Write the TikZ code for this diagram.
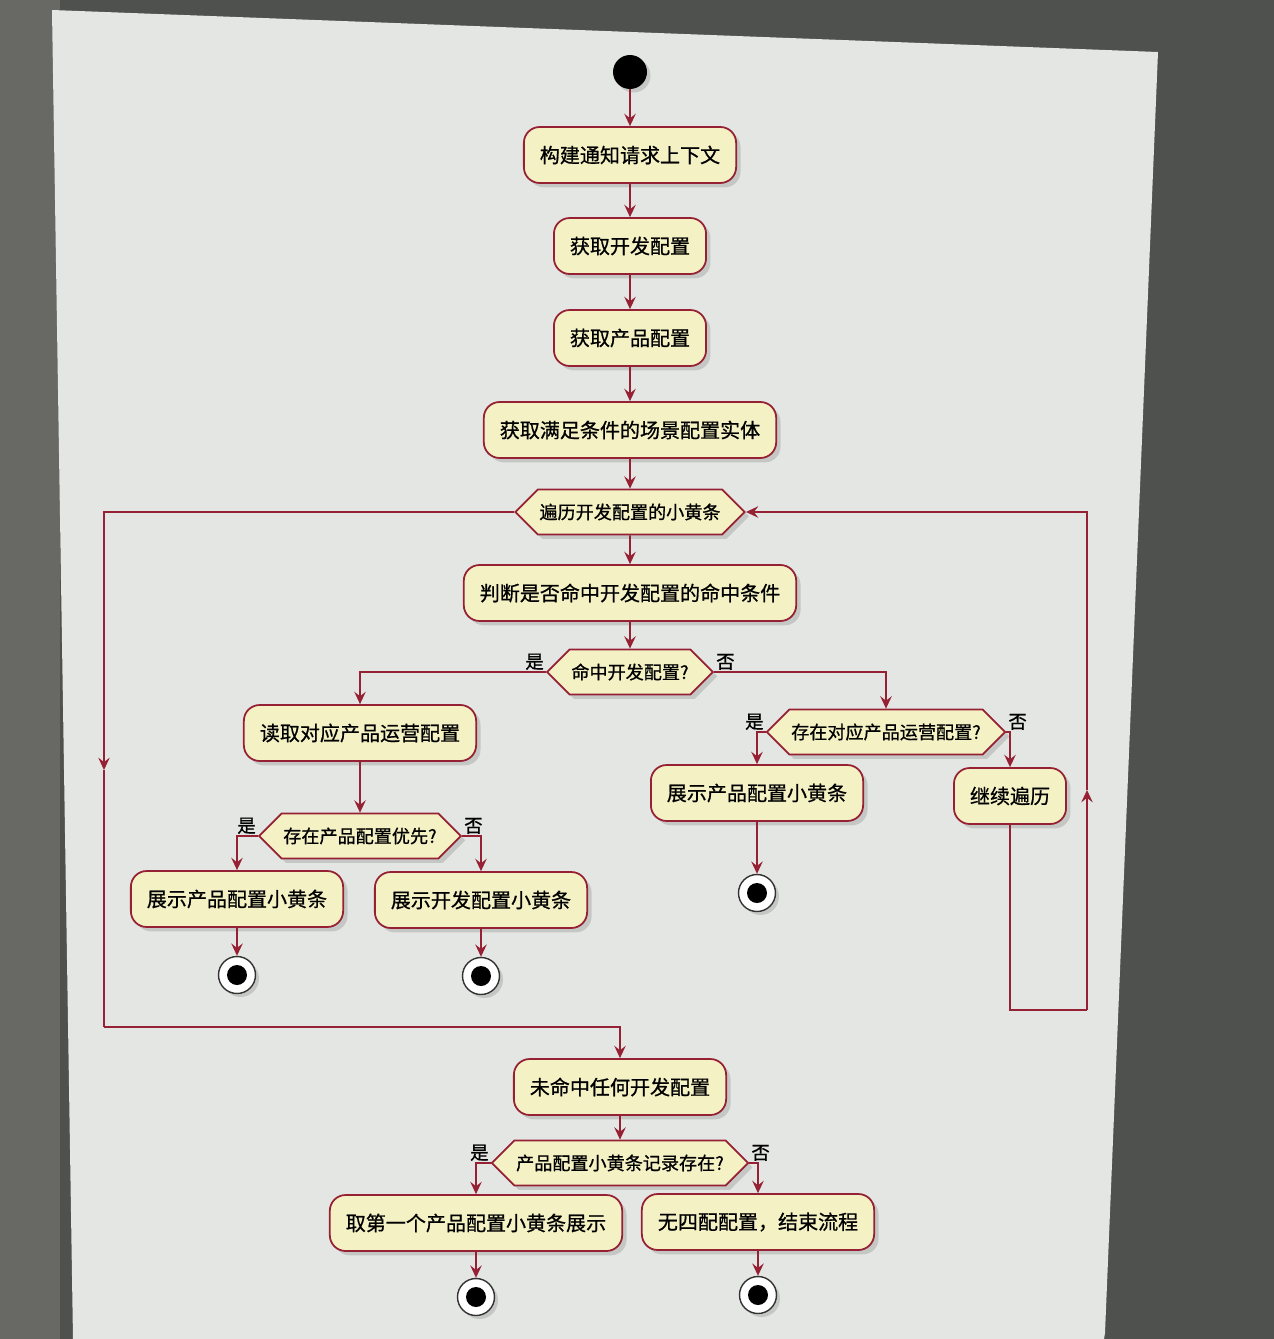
\documentclass[tikz,border=0pt]{standalone}
\usepackage{fontspec}
\newfontfamily\cjk{Noto Sans CJK SC}[FakeBold=0.8]
\usetikzlibrary{arrows.meta,shapes.symbols,shadows}

\definecolor{umlred}{RGB}{150,32,52}
\definecolor{umlfill}{RGB}{244,241,196}
\definecolor{paper}{RGB}{228,230,227}
\definecolor{screen}{RGB}{78,81,78}
\definecolor{screenleft}{RGB}{104,105,101}

\begin{document}
\begin{tikzpicture}[
    x=0.02cm, y=-0.02cm,
    act/.style={draw=umlred, line width=1pt, fill=umlfill, rounded corners=9pt, minimum height=1.12cm, inner xsep=0.32cm, font=\cjk\fontsize{11.4}{14}\selectfont, drop shadow={shadow xshift=2.5pt, shadow yshift=-2.5pt, opacity=0.3}},
    cond/.style={draw=umlred, line width=1pt, fill=umlfill, shape=signal, signal to=west and east, signal pointer angle=90, inner xsep=1pt, inner ysep=8pt, font=\cjk\fontsize{10.3}{12}\selectfont, drop shadow={shadow xshift=2.5pt, shadow yshift=-2.5pt, opacity=0.3}},
    startdot/.style={circle, fill=black, minimum size=0.68cm, inner sep=0pt, drop shadow={shadow xshift=2pt, shadow yshift=-2pt, opacity=0.3}},
    enddot/.style={circle, draw=black!80, fill=white, line width=0.8pt, minimum size=0.74cm, inner sep=0pt, drop shadow={shadow xshift=2pt, shadow yshift=-2pt, opacity=0.3}, path picture={\fill[black] (path picture bounding box.center) circle (0.2cm);}},
    flow/.style={draw=umlred, line width=1pt, -{Stealth[length=7pt, width=6.5pt, inset=2.5pt]}},
    line/.style={draw=umlred, line width=1pt},
    lbl/.style={font=\cjk\fontsize{10.5}{12}\selectfont, inner sep=1pt}
]
% --- screen and paper ---
\useasboundingbox (0,0) rectangle (1274,1339);
\fill[screen] (0,0) rectangle (1274,1339);
\fill[screenleft] (0,0) rectangle (60,1339);
\fill[paper] (52,10) -- (1158,52) -- (1105,1333) -- (1104,1339) -- (73,1339) -- cycle;

% --- main column ---
\node[startdot] (start) at (630,72) {};
\node[act] (build)   at (630,155) {构建通知请求上下文};
\node[act] (devcfg)  at (630,246) {获取开发配置};
\node[act] (prodcfg) at (630,338) {获取产品配置};
\node[act] (scene)   at (630,430) {获取满足条件的场景配置实体};
\node[cond] (loop)   at (630,512) {遍历开发配置的小黄条};
\node[act] (judge)   at (630,593) {判断是否命中开发配置的命中条件};
\node[cond] (hit)    at (630,672) {命中开发配置?};

% --- hit branch (left) ---
\node[act] (readop)     at (360,733) {读取对应产品运营配置};
\node[cond] (prio)      at (360,836) {存在产品配置优先?};
\node[act] (showprodA)  at (237,899) {展示产品配置小黄条};
\node[act] (showdev)    at (481,900) {展示开发配置小黄条};
\node[enddot] (endA) at (237,975) {};
\node[enddot] (endB) at (481,976) {};

% --- miss branch (right) ---
\node[cond] (opexist)   at (886,732) {存在对应产品运营配置?};
\node[act] (showprodB)  at (757,793) {展示产品配置小黄条};
\node[act] (goon)       at (1010,796) {继续遍历};
\node[enddot] (endC) at (757,893) {};

% --- after loop ---
\node[act] (nohit)      at (620,1087) {未命中任何开发配置};
\node[cond] (recexist)  at (620,1163) {产品配置小黄条记录存在?};
\node[act] (first)      at (476,1223) {取第一个产品配置小黄条展示};
\node[act] (nomatch)    at (758,1222) {无四配配置，结束流程};
\node[enddot] (endD) at (476,1297) {};
\node[enddot] (endE) at (758,1295) {};

% loop corners
\coordinate (lpA) at (104,770);
\coordinate (lpB) at (104,1027);
\coordinate (rpA) at (1087,1010);
\coordinate (rpB) at (1087,790);

% === straight flow ===
\draw[flow] (start) -- (build);
\draw[flow] (build) -- (devcfg);
\draw[flow] (devcfg) -- (prodcfg);
\draw[flow] (prodcfg) -- (scene);
\draw[flow] (scene) -- (loop);
\draw[flow] (loop) -- (judge);
\draw[flow] (judge) -- (hit);
\draw[flow] (readop) -- (prio);
\draw[flow] (showprodA) -- (endA);
\draw[flow] (showdev) -- (endB);
\draw[flow] (showprodB) -- (endC);
\draw[flow] (nohit) -- (recexist);
\draw[flow] (first) -- (endD);
\draw[flow] (nomatch) -- (endE);

% === decisions ===
\draw[flow] (hit.west) -| (readop.north);
\draw[flow] (hit.east) -| (opexist.north);
\node[lbl, anchor=south east] (hitY) at (hit.west) {是};
\node[lbl, anchor=south west] (hitN) at (hit.east) {否};

\draw[flow] (prio.west) -| (showprodA.north);
\draw[flow] (prio.east) -| (showdev.north);
\node[lbl, anchor=south east] (prioY) at (prio.west) {是};
\node[lbl, anchor=south west] (prioN) at (prio.east) {否};

\draw[flow] (opexist.west) -| (showprodB.north);
\draw[flow] (opexist.east) -| (goon.north);
\node[lbl, anchor=south east] (opY) at (opexist.west) {是};
\node[lbl, anchor=south west] (opN) at (opexist.east) {否};

\draw[flow] (recexist.west) -| (first.north);
\draw[flow] (recexist.east) -| (nomatch.north);
\node[lbl, anchor=south east] (recY) at (recexist.west) {是};
\node[lbl, anchor=south west] (recN) at (recexist.east) {否};

% === loop exit (left) and back edge (right) ===
\draw[flow] (loop.west) -| (lpA);
\draw[line] (lpA) -- (lpB);
\draw[flow] (lpB) -| (nohit.north);

\draw[line] (goon.south) |- (rpA);
\draw[flow] (rpA) -- (rpB);
\draw[flow] (rpB) |- (loop.east);
\end{tikzpicture}
\end{document}
